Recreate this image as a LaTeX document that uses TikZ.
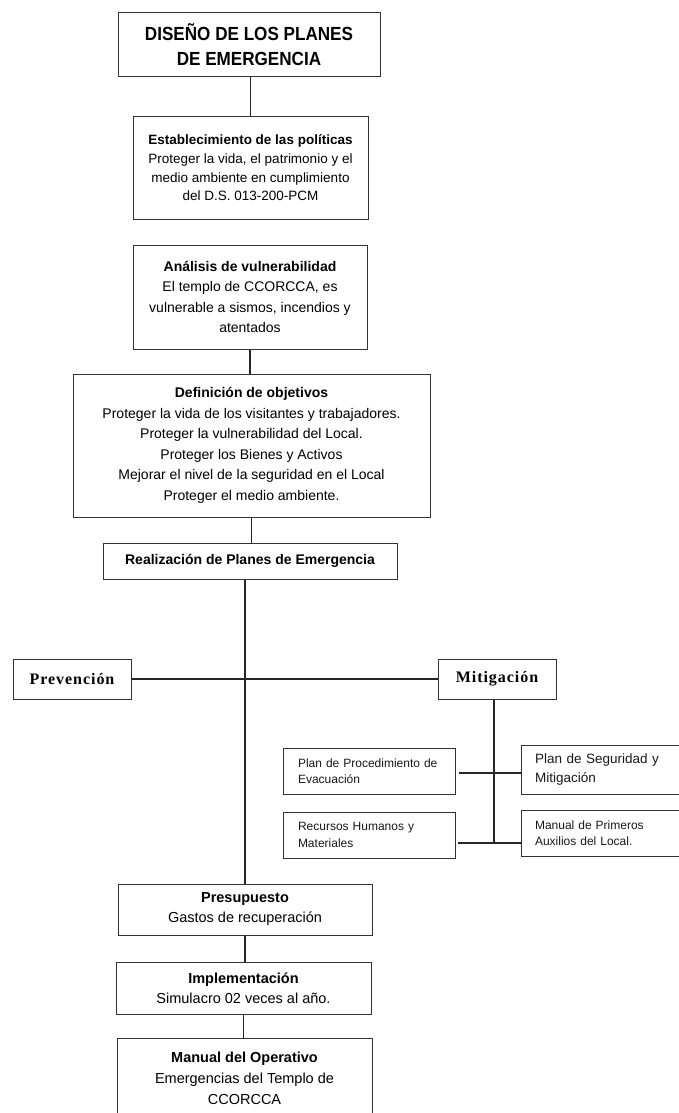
\documentclass[tikz,border=0pt]{standalone}
\usepackage{fontspec}
\setmainfont{Liberation Sans}
\newfontfamily\titlefont[FakeStretch=0.9]{Liberation Sans}
\newfontfamily\tnr[LetterSpace=6]{Liberation Serif}
\begin{document}
\begin{tikzpicture}[x=1pt,y=-1pt,
  box/.style={draw=black!80, line width=1pt, inner sep=0pt, align=center, text=black},
  lbox/.style={draw=black!80, line width=1pt, inner ysep=0pt, align=left, text=black!90},
  conn/.style={draw=black!85, line width=1.1pt},
  f14/.style={font=\fontsize{14}{20.5}\selectfont},
  f12/.style={font=\fontsize{12}{16.5}\selectfont}]
\useasboundingbox (0,0) rectangle (679,1113);
\clip (0,0) rectangle (679,1113);
\fill[white] (0,0) rectangle (679,1113);

\node[box, minimum width=262pt, minimum height=64pt, font={\titlefont\bfseries\fontsize{19}{25}\selectfont}] (t) at (249,45)
  {DISEÑO DE LOS PLANES\\DE EMERGENCIA};
\node[box, minimum width=235pt, minimum height=102pt, font=\fontsize{13.5}{18.6}\selectfont] (b2) at (250.5,168)
  {{\bfseries Establecimiento de las políticas}\\Proteger la vida, el patrimonio y el\\medio ambiente en cumplimiento\\del D.S. 013-200-PCM};
\node[box, f14, minimum width=234pt, minimum height=104pt] (b3) at (250,297)
  {{\bfseries Análisis de vulnerabilidad}\\El templo de CCORCCA, es\\vulnerable a sismos, incendios y\\atentados};
\node[box, f14, minimum width=357pt, minimum height=143pt] (b4) at (251.5,445.5)
  {{\bfseries Definición de objetivos}\\Proteger la vida de los visitantes y trabajadores.\\Proteger la vulnerabilidad del Local.\\Proteger los Bienes y Activos\\Mejorar el nivel de la seguridad en el Local\\Proteger el medio ambiente.};
\node[box, minimum width=294pt, minimum height=36pt, font={\fontsize{14}{20}\selectfont\bfseries}] (b5) at (250,561)
  {Realización de Planes de Emergencia};

\node[box, minimum width=118pt, minimum height=40pt, font={\tnr\bfseries\fontsize{16}{20}\selectfont}] (prev) at (72,679) {Prevención};
\node[box, minimum width=118pt, minimum height=40pt, font={\tnr\bfseries\fontsize{16}{20}\selectfont}] (mit) at (497,679) {Mitigación};

\node[lbox, f12, inner xsep=15pt, text width=142pt, minimum height=46pt] (pp) at (369,771)
  {Plan de Procedimiento de\\Evacuación};
\node[lbox, inner xsep=14pt, text width=141pt, minimum height=49pt, font=\fontsize{13.5}{19}\selectfont] (ps) at (605.5,769.5)
  {Plan de Seguridad y\\Mitigación};
\node[lbox, f12, inner xsep=15pt, text width=142pt, minimum height=46pt] (rh) at (369,835)
  {Recursos Humanos y\\Materiales};
\node[lbox, f12, inner xsep=14pt, text width=141pt, minimum height=46pt] (mp) at (605.5,833)
  {Manual de Primeros\\Auxilios del Local.};

\node[box, minimum width=254pt, minimum height=51pt, font=\fontsize{14.5}{20}\selectfont] (pr) at (245,909.5)
  {{\bfseries Presupuesto}\\Gastos de recuperación};
\node[box, minimum width=255pt, minimum height=52pt, font=\fontsize{14.5}{20.5}\selectfont] (im) at (243.5,988)
  {{\bfseries Implementación}\\Simulacro 02 veces al año.};
\node[box, minimum width=255pt, minimum height=80pt, font=\fontsize{14.5}{21}\selectfont] (mo) at (244.5,1078)
  {{\bfseries Manual del Operativo}\\Emergencias del Templo de\\CCORCCA};

\draw[conn] (b2.north) -- (b2.north |- t.south);
\draw[conn] (b3.south) -- (b3.south |- b4.north);
\draw[conn] (b4.south) -- (b4.south |- b5.north);
\draw[conn] (pr.north) -- (pr.north |- b5.south);
\draw[conn] (prev.east) -- (mit.west);
\coordinate (j) at (494,843);
\draw[conn] (mit.south -| j) -- (j);
\coordinate (h1) at (459,773);
\draw[conn] (h1) -- (h1 -| ps.west);
\coordinate (h2) at (458,843);
\draw[conn] (h2) -- (h2 -| mp.west);
\draw[conn] (pr.south) -- (pr.south |- im.north);
\draw[conn] (im.south) -- (im.south |- mo.north);
\end{tikzpicture}
\end{document}
